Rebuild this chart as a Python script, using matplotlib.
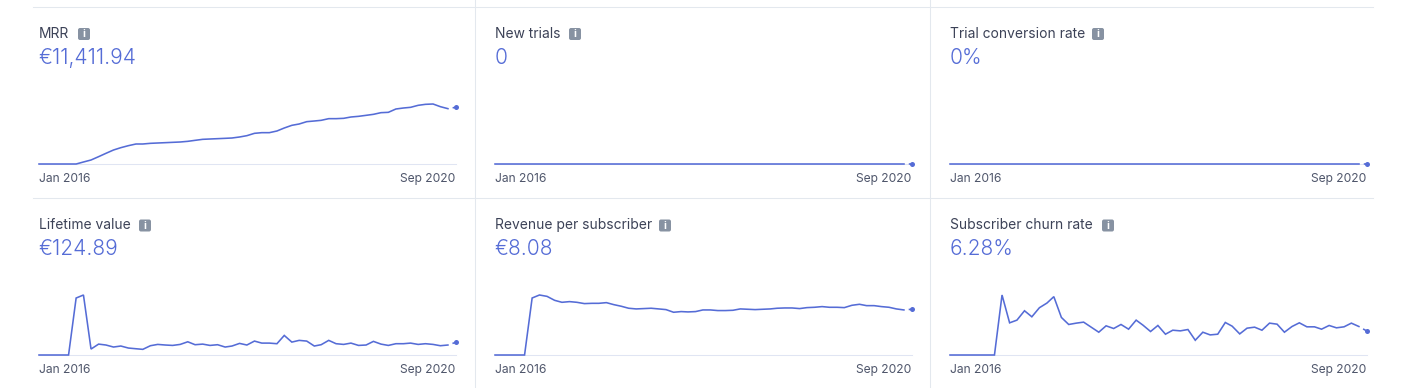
import matplotlib
matplotlib.use("Agg")
import matplotlib.pyplot as plt
import pandas as pd
from matplotlib.lines import Line2D
from matplotlib.patches import FancyBboxPatch

W, H = 1407, 388
plt.rcParams['font.family'] = ['Inter', 'DejaVu Sans']

months = pd.date_range('2016-01-01', '2020-09-01', freq='MS')
tick_labels = ['Jan 2016', 'Sep 2020']

titles = ['MRR', 'New trials', 'Trial conversion rate',
          'Lifetime value', 'Revenue per subscriber', 'Subscriber churn rate']
headlines = ['€11,411.94', '0', '0%', '€124.89', '€8.08', '6.28%']

mrr = [0, 0, 0, 0, 0, 0, 403, 806, 1477, 2148, 2819, 3289, 3692, 4028, 4028, 4162, 4229, 4296, 4363,
       4431, 4565, 4766, 4968, 5035, 5102, 5169, 5236, 5438, 5706, 6176, 6310, 6310, 6646, 7250, 7787,
       8056, 8526, 8660, 8794, 9130, 9130, 9197, 9465, 9600, 9801, 10002, 10338, 10405, 11076, 11278,
       11412, 11815, 12016, 12083, 11546, 11144, 11411.94]
new_trials = [0] * 57
trial_conversion = [0] * 57
lifetime_value = [0, 0, 0, 0, 0, 565, 595, 59, 108, 99, 79, 89, 69, 62, 56, 92, 105, 99, 95, 105, 131,
                  102, 108, 95, 102, 79, 89, 115, 99, 138, 118, 118, 112, 194, 128, 145, 138, 89, 102,
                  145, 112, 105, 118, 95, 99, 135, 108, 95, 112, 112, 118, 105, 112, 105, 92, 99, 124.89]
revenue_per_sub = [0, 0, 0, 0, 0, 10.07, 10.60, 10.36, 9.66, 9.31, 9.43, 9.31, 9.08, 9.13, 9.13, 9.25,
                   8.90, 8.61, 8.26, 8.14, 8.20, 8.26, 8.14, 8.02, 7.55, 7.67, 7.61, 7.67, 7.96, 7.96,
                   7.85, 7.85, 7.90, 8.14, 8.08, 8.02, 8.08, 8.14, 8.26, 8.31, 8.31, 8.20, 8.37, 8.43,
                   8.55, 8.43, 8.43, 8.37, 8.78, 8.96, 8.72, 8.72, 8.55, 8.43, 8.14, 7.96, 8.08]
churn_rate = [0, 0, 0, 0, 0, 0, 0, 15.61, 8.37, 9.07, 11.51, 9.94, 12.30, 13.52, 15.18, 9.77, 7.94, 8.29,
              8.55, 7.24, 5.93, 7.59, 6.89, 7.94, 6.72, 9.07, 7.76, 6.11, 7.68, 5.41, 6.45, 6.28, 6.63,
              3.84, 5.93, 5.23, 5.41, 8.46, 7.50, 5.49, 6.98, 7.24, 6.45, 8.29, 8.02, 5.93, 7.41, 8.37,
              7.33, 7.33, 6.72, 7.68, 7.07, 7.33, 8.29, 7.41, 6.28]
series = [mrr, new_trials, trial_conversion, lifetime_value, revenue_per_sub, churn_rate]

BLUE = '#556cd6'
TITLE = '#3c4257'
TICK = '#4f566b'
GRID = '#e3e8ee'
AXIS = '#e0e5f3'
ICON = '#8792a2'

panel_left = [39, 495, 950]
panel_width = 416.5
baselines = [164, 355]
icon_left = [78, 569, 1092, 139, 659, 1102]

fig = plt.figure(figsize=(W / 100, H / 100), dpi=100, facecolor='white')


def fx(x):
    return x / W


def fy(y):
    return 1 - y / H


for y in (7, 198):
    fig.add_artist(Line2D([fx(33), fx(1373)], [fy(y), fy(y)], color=GRID, lw=0.75))
for x in (475, 930):
    fig.add_artist(Line2D([fx(x), fx(x)], [0, 1], color=GRID, lw=0.75))

for k, values in enumerate(series):
    row, col = divmod(k, 3)
    base = baselines[row]
    left = panel_left[col]
    ax = fig.add_axes([fx(left), fy(base), panel_width / W, 60 / H], facecolor='none')
    top = max(values) or 1
    ax.set_xlim(months[0], months[-1])
    ax.set_ylim(0, top)
    ax.plot(months[:-1], values[:-1], color=BLUE, lw=1.15, clip_on=False, zorder=3,
            solid_joinstyle='miter')
    ax.plot(months[-2:], values[-2:], color=BLUE, lw=1.15, clip_on=False, zorder=3,
            linestyle=(3.0, (3, 3)))
    ax.plot(months[-1:], values[-1:], 'o', color=BLUE, ms=3.6, mew=0, clip_on=False, zorder=4)
    for s in ('top', 'left', 'right'):
        ax.spines[s].set_visible(False)
    ax.spines['bottom'].set_color(AXIS)
    ax.spines['bottom'].set_linewidth(0.75)
    ax.set_yticks([])
    ax.set_xticks([months[0], months[-1]], tick_labels)
    ax.tick_params(axis='x', length=0, pad=6.4, labelsize=8.7, labelcolor=TICK)
    xt = ax.get_xticklabels()
    xt[0].set_ha('left')
    xt[1].set_ha('right')

    title_y = 37.5 if row == 0 else 229
    value_y = 64 if row == 0 else 255
    fig.text(fx(left), fy(title_y), titles[k], fontsize=9.95, color=TITLE, va='baseline', ha='left')
    fig.text(fx(left - 0.5), fy(value_y), headlines[k], fontsize=15.0, fontweight=300, color=BLUE,
             va='baseline', ha='left')

    ix = icon_left[k]
    iy = title_y - 9.5
    fig.add_artist(FancyBboxPatch((ix + 2, H - iy - 10), 8, 8,
                                  boxstyle='round,pad=2,rounding_size=2', fc=ICON, ec='none',
                                  transform=None))
    fig.text(fx(ix + 6), fy(iy + 6), 'i', fontsize=7.5, fontweight='bold', color='white',
             ha='center', va='center')

fig.savefig('out.png', dpi=100, facecolor='white')
